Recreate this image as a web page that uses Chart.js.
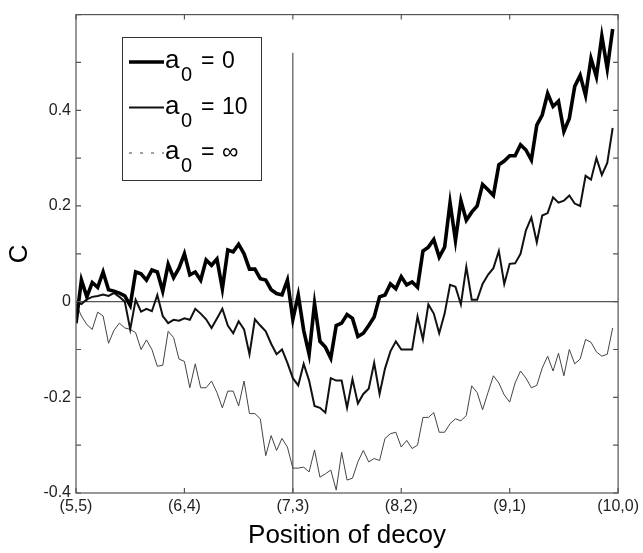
<!DOCTYPE html>
<html>
<head>
<meta charset="utf-8">
<title>C vs position of decoy</title>
<script src="https://cdn.jsdelivr.net/npm/chart.js@4.4.1/dist/chart.umd.min.js"></script>
<style>
  body { margin: 0; background: #fff; }
  #wrap { width: 643px; height: 553px; }
</style>
</head>
<body>
<div id="wrap"><canvas id="chartCanvas" width="643" height="553"></canvas></div>
<script>
// decoy positions, one tick every 20 steps
const xTickLabels = ['(5,5)', '(6,4)', '(7,3)', '(8,2)', '(9,1)', '(10,0)'];
// y labels keyed by tenths, unlabelled ticks in between
const yTickLabels = { '-4': '-0.4', '-2': '-0.2', '0': '0', '2': '0.2', '4': '0.4' };
const legendValues = ['0', '10', '\u221e'];

// C for a0 = 0
const c0 = [
  -0.045, 0.045, 0.01, 0.04, 0.03, 0.062, 0.025, 0.022, 0.018, 0.012,
  -0.008, 0.062, 0.058, 0.045, 0.066, 0.062, 0.022, 0.078, 0.05, 0.07,
  0.1, 0.056, 0.062, 0.045, 0.087, 0.076, 0.089, 0.027, 0.108, 0.104,
  0.12, 0.1, 0.068, 0.068, 0.048, 0.045, 0.025, 0.017, 0.014, 0.045,
  -0.037, 0.014, -0.06, -0.11, -0.004, -0.083, -0.095, -0.118, -0.05, -0.045,
  -0.027, -0.035, -0.073, -0.066, -0.05, -0.032, 0.01, 0.014, 0.037, 0.027,
  0.052, 0.035, 0.041, 0.03, 0.106, 0.114, 0.13, 0.093, 0.114, 0.207,
  0.128, 0.211, 0.17, 0.187, 0.2, 0.245, 0.234, 0.222, 0.286, 0.294,
  0.305, 0.305, 0.328, 0.317, 0.296, 0.369, 0.39, 0.435, 0.408, 0.419,
  0.356, 0.383, 0.45, 0.473, 0.431, 0.508, 0.47, 0.555, 0.487, 0.57
];
// C for a0 = 10
const c10 = [
  0.0, -0.005, 0.005, 0.01, 0.012, 0.015, 0.012, 0.018, 0.01, 0.0,
  -0.058, 0.004, -0.021, -0.015, -0.02, 0.014, -0.03, -0.045, -0.038, -0.04,
  -0.035, -0.038, -0.015, -0.025, -0.037, -0.055, -0.035, -0.015, -0.05, -0.066,
  -0.041, -0.058, -0.11, -0.037, -0.05, -0.062, -0.088, -0.11, -0.1, -0.128,
  -0.16, -0.175, -0.13, -0.165, -0.218, -0.222, -0.232, -0.16, -0.165, -0.165,
  -0.222, -0.162, -0.213, -0.193, -0.182, -0.128, -0.193, -0.14, -0.104, -0.083,
  -0.1, -0.1, -0.1, -0.031, -0.079, -0.006, -0.025, -0.066, -0.025, 0.035,
  0.031, -0.006, 0.073, 0.004, 0.004, 0.037, 0.056, 0.07, 0.106, 0.037,
  0.079, 0.08, 0.1, 0.149, 0.176, 0.124, 0.18, 0.185, 0.218, 0.207,
  0.211, 0.222, 0.205, 0.2, 0.263, 0.255, 0.3, 0.265, 0.29, 0.363
];
// C for a0 = infinity
const cInf = [
  -0.005, -0.03, -0.048, -0.058, -0.022, -0.03, -0.087, -0.06, -0.045, -0.055,
  -0.058, -0.065, -0.1, -0.08, -0.1, -0.135, -0.133, -0.062, -0.075, -0.12,
  -0.125, -0.18, -0.13, -0.18, -0.18, -0.166, -0.19, -0.222, -0.187, -0.187,
  -0.218, -0.166, -0.234, -0.234, -0.245, -0.322, -0.28, -0.311, -0.286, -0.304,
  -0.348, -0.348, -0.346, -0.356, -0.31, -0.367, -0.36, -0.352, -0.394, -0.315,
  -0.373, -0.369, -0.335, -0.311, -0.335, -0.328, -0.332, -0.286, -0.276, -0.273,
  -0.304, -0.29, -0.307, -0.3, -0.242, -0.242, -0.232, -0.273, -0.273, -0.255,
  -0.245, -0.249, -0.238, -0.176, -0.19, -0.226, -0.19, -0.155, -0.17, -0.195,
  -0.21, -0.17, -0.145, -0.16, -0.18, -0.175, -0.139, -0.114, -0.145, -0.108,
  -0.155, -0.1, -0.13, -0.12, -0.079, -0.085, -0.105, -0.114, -0.11, -0.055
];

// marker at (7,3) and the zero baseline
const markPos = 40;
const markTop = 0.52;
const xMin = 0, xMax = 100, yMin = -0.4, yMax = 0.6;

const family = '"Liberation Sans", Arial, Helvetica, sans-serif';
const axisGray = '#555';

function toPoints(ys) {
  return ys.map((y, i) => ({ x: i, y: y }));
}

// box with inward tick marks on all four sides
const framePlugin = {
  id: 'frame',
  afterDraw(chart) {
    const ctx = chart.ctx;
    const a = chart.chartArea;
    const xs = chart.scales.x, ys = chart.scales.y;
    const len = 5;
    ctx.save();
    ctx.strokeStyle = axisGray;
    ctx.lineWidth = 1.2;
    ctx.strokeRect(a.left, a.top, a.right - a.left, a.bottom - a.top);
    ctx.beginPath();
    ys.ticks.forEach(t => {
      const y = ys.getPixelForValue(t.value);
      ctx.moveTo(a.left, y); ctx.lineTo(a.left + len, y);
      ctx.moveTo(a.right, y); ctx.lineTo(a.right - len, y);
    });
    xs.ticks.forEach(t => {
      const x = xs.getPixelForValue(t.value);
      ctx.moveTo(x, a.bottom); ctx.lineTo(x, a.bottom - len);
      ctx.moveTo(x, a.top); ctx.lineTo(x, a.top + len);
    });
    ctx.stroke();
    ctx.restore();
  }
};

// legend box with subscripted a0
const legendPlugin = {
  id: 'boxLegend',
  afterDraw(chart) {
    const ctx = chart.ctx;
    ctx.save();
    ctx.strokeStyle = '#333';
    ctx.lineWidth = 1;
    ctx.strokeRect(122.5, 37.5, 139, 143);
    chart.data.datasets.slice(0, 3).forEach((ds, i) => {
      const y = 62 + i * 45.5;
      ctx.beginPath();
      ctx.setLineDash(ds.legendDash || []);
      ctx.strokeStyle = ds.borderColor;
      ctx.lineWidth = ds.borderWidth;
      ctx.moveTo(129, y);
      ctx.lineTo(164, y);
      ctx.stroke();
      ctx.setLineDash([]);
      ctx.fillStyle = '#000';
      ctx.textBaseline = 'alphabetic';
      ctx.font = '26px ' + family;
      ctx.fillText('a', 165, y + 6);
      ctx.font = '23px ' + family;
      ctx.fillText('=', 201, y + 6);
      ctx.fillText(legendValues[i], 222, y + 6);
      ctx.font = '20px ' + family;
      ctx.fillText('0', 181, y + 19);
    });
    ctx.restore();
  }
};

const ctx = document.getElementById('chartCanvas').getContext('2d');
window.myChart = new Chart(ctx, {
  type: 'line',
  data: {
    datasets: [
      { label: 'a0 = 0', data: toPoints(c0), borderColor: '#000', borderWidth: 3.6 },
      { label: 'a0 = 10', data: toPoints(c10), borderColor: '#111', borderWidth: 2 },
      { label: 'a0 = inf', data: toPoints(cInf), borderColor: '#444', borderWidth: 1, legendDash: [3, 8] },
      { label: 'zero', data: [{ x: xMin, y: 0 }, { x: xMax, y: 0 }], borderColor: axisGray, borderWidth: 1.2 },
      { label: 'mark', data: [{ x: markPos, y: yMin }, { x: markPos, y: markTop }], borderColor: axisGray, borderWidth: 1.2 }
    ]
  },
  options: {
    responsive: false,
    animation: false,
    layout: { padding: { top: 11, right: 24, left: 0, bottom: 0 } },
    elements: { point: { radius: 0 }, line: { tension: 0, borderJoinStyle: 'miter' } },
    plugins: { legend: { display: false }, tooltip: { enabled: false } },
    scales: {
      x: {
        type: 'linear',
        min: xMin,
        max: xMax,
        grid: { display: false, drawTicks: false },
        border: { display: false },
        ticks: {
          stepSize: 20,
          autoSkip: false,
          maxRotation: 0,
          padding: 4,
          color: '#222',
          font: { size: 16, family: family },
          callback: v => xTickLabels[Math.round(v / 20)]
        },
        title: {
          display: true,
          text: 'Position of decoy',
          color: '#000',
          font: { size: 26, family: family },
          padding: { top: 2, bottom: 2 }
        },
        afterFit: s => { s.height = 60; }
      },
      y: {
        type: 'linear',
        min: yMin,
        max: yMax,
        grid: { display: false, drawTicks: false },
        border: { display: false },
        ticks: {
          stepSize: 0.1,
          autoSkip: false,
          padding: 5,
          color: '#222',
          font: { size: 16, family: family },
          callback: v => yTickLabels[Math.round(v * 10)] ?? ''
        },
        title: {
          display: true,
          text: 'C',
          color: '#000',
          font: { size: 26, family: family },
          padding: { top: 4, bottom: 4 }
        },
        afterFit: s => { s.width = 76; }
      }
    }
  },
  plugins: [framePlugin, legendPlugin]
});
</script>
</body>
</html>
